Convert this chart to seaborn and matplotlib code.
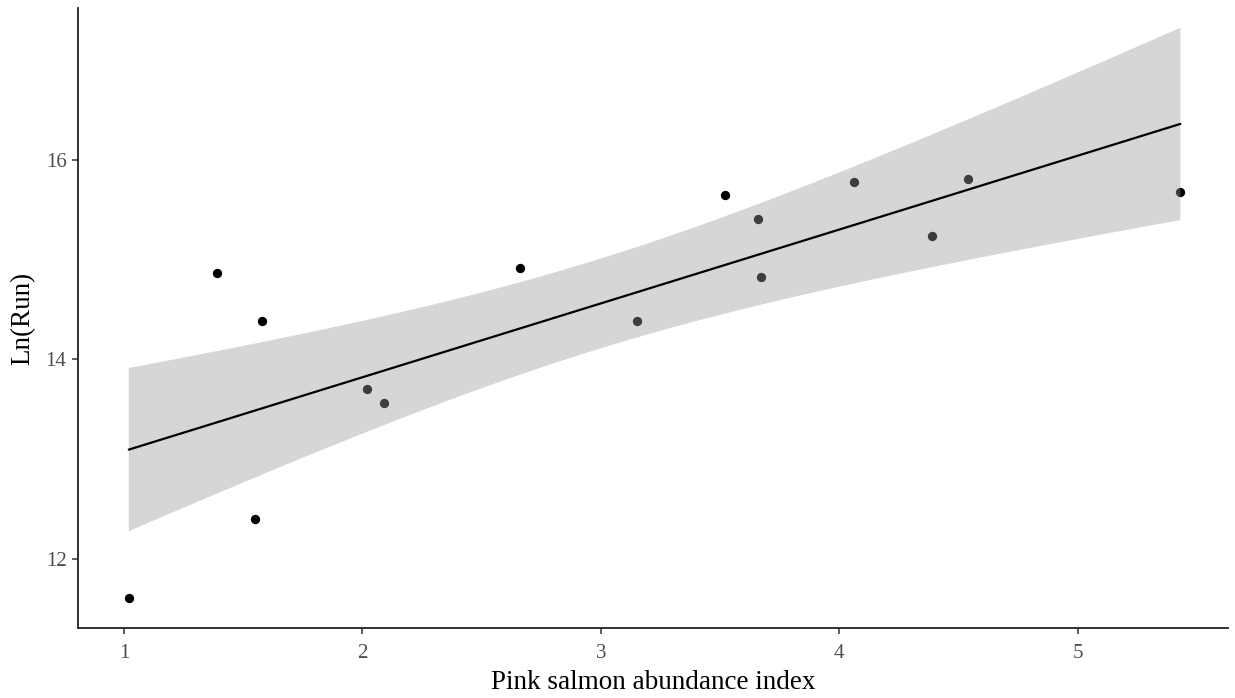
import matplotlib
matplotlib.use("Agg")
import matplotlib.pyplot as plt
import numpy as np
import seaborn as sns
import pandas as pd

# Pink salmon abundance index vs log run size
abundance = [1.02, 1.39, 1.58, 1.55, 2.02, 2.09, 2.66, 3.15, 3.52,
             3.66, 3.67, 4.06, 4.39, 4.54, 5.43]
ln_run = [11.61, 14.87, 14.38, 12.40, 13.70, 13.56, 14.92, 14.38, 15.65,
          15.41, 14.83, 15.78, 15.24, 15.81, 15.68]
x_ticks = [1, 2, 3, 4, 5]
y_ticks = [12, 14, 16]

# two-sided 95% Student t quantile for n - 2 = 13 degrees of freedom
T_CRIT = 2.1604

df = pd.DataFrame({"abundance": abundance, "ln_run": ln_run})

# analytic 95% confidence band of the OLS fit
x = df["abundance"].to_numpy()
y = df["ln_run"].to_numpy()
n = len(x)
slope, intercept = np.polyfit(x, y, 1)
resid = y - (intercept + slope * x)
s = np.sqrt(np.sum(resid ** 2) / (n - 2))
sxx = np.sum((x - x.mean()) ** 2)
grid = np.linspace(x.min(), x.max(), 200)
fit = intercept + slope * grid
half = T_CRIT * s * np.sqrt(1 / n + (grid - x.mean()) ** 2 / sxx)

sns.set_theme(style="ticks")
plt.rcParams["font.family"] = ["Liberation Serif", "DejaVu Serif"]

fig = plt.figure(figsize=(12.35, 6.98), dpi=100)
ax = fig.add_axes([78 / 1235, 1 - 628 / 698, 1150 / 1235, 620 / 698])

sns.scatterplot(data=df, x="abundance", y="ln_run", ax=ax, color="black",
                s=45, linewidth=0, zorder=2)
ax.fill_between(grid, fit - half, fit + half, facecolor="#999999",
                alpha=0.4, edgecolor="none", zorder=3)
sns.regplot(data=df, x="abundance", y="ln_run", ax=ax, scatter=False,
            ci=None, color="black", line_kws={"linewidth": 1.6, "zorder": 4})

ax.set_xlim(0.807, 5.63)
ax.set_ylim(11.31, 17.52)
ax.set_xticks(x_ticks)
ax.set_yticks(y_ticks)
ax.set_xlabel("Pink salmon abundance index", fontsize=19.5, color="black", labelpad=5)
ax.set_ylabel("Ln(Run)", fontsize=19.5, color="black", labelpad=7)
ax.tick_params(axis="both", labelsize=15, labelcolor="#4d4d4d", color="#333333",
               length=4.3, width=1.1)
ax.tick_params(axis="x", pad=7)
ax.tick_params(axis="y", pad=4)
for side in ["top", "right"]:
    ax.spines[side].set_visible(False)
for side in ["left", "bottom"]:
    ax.spines[side].set_linewidth(1.3)
    ax.spines[side].set_color("#222222")

fig.savefig("out.png", dpi=100, facecolor="white")
